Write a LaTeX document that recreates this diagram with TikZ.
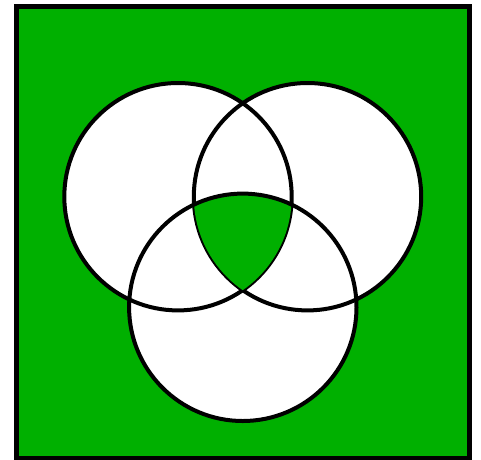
\documentclass[tikz,border=0pt]{standalone}
\definecolor{vgreen}{RGB}{0,176,0}
\tikzset{
  frame/.style={line width=4.5pt, draw=black, fill=vgreen},
  ring/.style={line width=4pt, draw=black},
}
\begin{document}
\begin{tikzpicture}[x=1pt,y=-1pt]
\useasboundingbox (0,0) rectangle (481,459);
\coordinate (A) at (178,196.7);
\coordinate (B) at (307.5,196.7);
\coordinate (C) at (242.8,307.3);
\def\rr{113.7}
\fill[white] (0,0) rectangle (481,459);
\draw[frame] (16.3,6.3) rectangle (469.7,458.6);
\fill[white] (A) circle[radius=\rr];
\fill[white] (B) circle[radius=\rr];
\fill[white] (C) circle[radius=\rr];
\draw[ring] (A) circle[radius=\rr];
\draw[ring] (B) circle[radius=\rr];
\begin{scope}
  \clip (A) circle[radius=\rr];
  \clip (B) circle[radius=\rr];
  \fill[vgreen] (C) circle[radius=\rr];
\end{scope}
\draw[ring] (C) circle[radius=\rr];
\end{tikzpicture}
\end{document}
